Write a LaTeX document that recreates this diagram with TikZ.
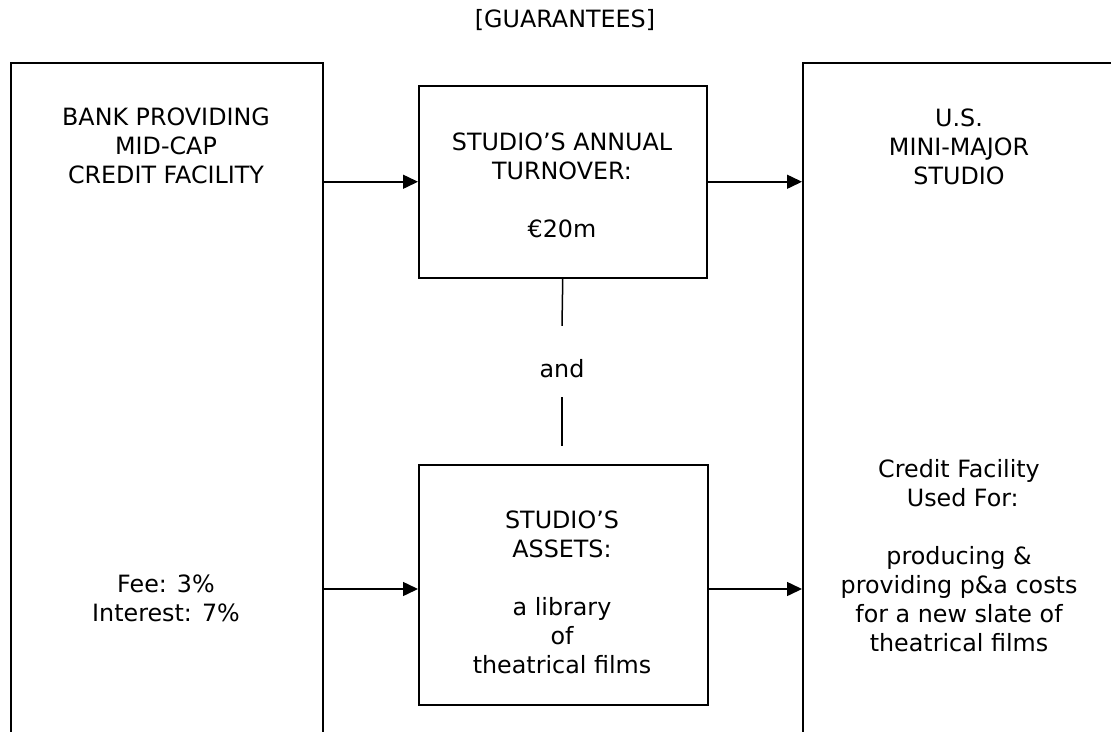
\documentclass[tikz,border=0pt]{standalone}
\usepackage{fontspec}
\setmainfont{DejaVu Sans}
\usetikzlibrary{arrows.meta}
\begin{document}
\begin{tikzpicture}[x=1pt,y=-1pt,
  frame/.style={draw=black, line width=1.5pt, inner sep=0pt, anchor=north west},
  txt/.style={align=center, inner sep=0pt, anchor=base, font=\fontsize{23.8}{29}\selectfont},
  arr/.style={line width=1.5pt, -{Triangle[length=15pt,width=14pt]}},
  link/.style={line width=1.5pt}]
\useasboundingbox (0,0) rectangle (1111,731);
\clip (0,0) rectangle (1111,731);
\fill[white] (0,0) rectangle (1111,731);

% outer parties (boxes run past the lower and right edges)
\node[frame, minimum width=312, minimum height=760] (bank) at (10,62) {};
\node[frame, minimum width=314, minimum height=760] (studio) at (802,62) {};

% the two security boxes in the middle
\node[frame, minimum width=288, minimum height=192] (turnover) at (418,85) {};
\node[frame, minimum width=289, minimum height=240] (assets) at (418,464) {};

% texts
\node[txt] (guar) at (565,27) {[GUARANTEES]};
\node[txt] (banktext) at (166,183) {BANK PROVIDING\\MID-CAP\\CREDIT FACILITY};
\node[txt] (feetext) at (166,621) {Fee: 3\%\\Interest: 7\%};
\node[txt] (studiotext) at (959,184) {U.S.\\MINI-MAJOR\\STUDIO};
\node[txt] (usetext) at (959,651) {Credit Facility\\\mbox{}\ Used For:\\[29pt]producing \&\\providing p\&a costs\\for a new slate of\\theatrical films};
\node[txt] (turntext) at (562,237) {STUDIO’S ANNUAL\\TURNOVER:\\[29pt]€20m};
\node[txt] (assettext) at (562,673) {STUDIO’S\\ASSETS:\\[29pt]a library\\of\\theatrical films};

% "and" between the two middle boxes
\node[font=\fontsize{23.8}{29}\selectfont, inner sep=0pt, text height=51pt, text depth=20pt, anchor=base] (and) at (562,377) {and};
\coordinate (andend) at (562,446);

% flow arrows
\coordinate (lowrow) at (0,589);
\draw[arr] (bank.east |- turnover.west) -- (turnover.west);
\draw[arr] (turnover.east) -- (turnover.east -| studio.west);
\draw[arr] (bank.east |- lowrow) -- (assets.west |- lowrow);
\draw[arr] (assets.east |- lowrow) -- (studio.west |- lowrow);

% link between the two guarantees
\draw[link] (turnover.south) -- (and.north);
\draw[link] (and.south) -- (andend);
\end{tikzpicture}
\end{document}
